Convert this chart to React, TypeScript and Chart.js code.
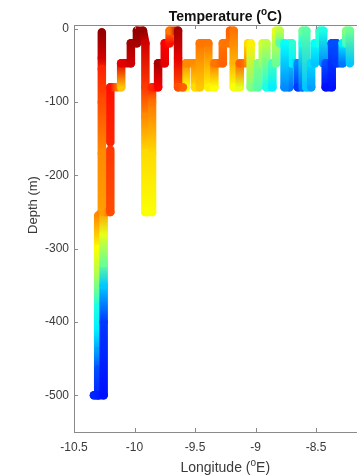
import React, { useEffect, useRef } from 'react';
import { Chart, registerables } from 'chart.js';

Chart.register(...registerables);

// ---- Track data: longitude (°E), depth (m), temperature (°C) ----
const deepLon = [-10.27, -10.27, -10.27, -10.27, -10.27, -10.27, -10.3, -10.3, -10.3, -10.3, -10.3, -10.3, -10.3, -10.3, -10.3, -10.335, -10.255, -10.255, -10.255, -10.255, -10.255, -10.255, -10.2, -10.2];
const deepDepth = [-5, -40, -55, -100, -170, -250, -255, -300, -330, -350, -380, -410, -440, -465, -500, -500, -500, -400, -350, -320, -280, -250, -250, -165];
const deepTemp = [14.9, 14.6, 14.2, 14.0, 13.7, 13.6, 13.7, 13.1, 12.8, 12.5, 12.0, 11.8, 11.4, 11.0, 10.8, 10.8, 10.7, 10.9, 11.6, 12.4, 13.0, 13.6, 14.0, 14.1];

const shelfALon = [-10.2, -10.2, -10.11, -10.11, -10.03, -10.03, -9.98, -9.98, -9.93, -9.91, -9.91, -9.91, -9.91, -9.91, -9.855, -9.855, -9.855, -9.855, -9.805, -9.805, -9.75, -9.75, -9.71, -9.71, -9.64, -9.64, -9.64, -9.6];
const shelfADepth = [-155, -80, -80, -47, -47, -20, -20, -3, -3, -20, -80, -120, -170, -250, -250, -170, -100, -80, -80, -47, -47, -20, -20, -3, -3, -40, -80, -80];
const shelfATemp = [14.2, 14.3, 13.4, 14.5, 14.6, 14.8, 14.8, 14.9, 14.9, 14.6, 14.1, 13.7, 13.3, 13.1, 13.1, 13.3, 13.8, 14.2, 14.4, 14.8, 14.5, 14.4, 14.3, 13.8, 14.8, 14.5, 14.0, 13.9];

const shelfBLon = [-9.6, -9.575, -9.575, -9.5, -9.5, -9.46, -9.46, -9.39, -9.39, -9.34, -9.34, -9.27, -9.27, -9.21, -9.21, -9.18, -9.18, -9.18, -9.13, -9.13, -9.06, -9.06, -9.04, -9.04, -8.98, -8.98, -8.94, -8.94, -8.91, -8.91, -8.86, -8.86, -8.83, -8.83, -8.8, -8.8, -8.76, -8.76];
const shelfBDepth = [-80, -80, -47, -47, -80, -80, -20, -20, -80, -80, -47, -47, -20, -20, -3, -3, -47, -80, -80, -47, -47, -20, -20, -80, -80, -47, -47, -20, -20, -80, -80, -47, -47, -3, -3, -20, -20, -80];
const shelfBTemp = [13.9, 13.1, 13.7, 13.7, 13.3, 13.4, 13.8, 13.8, 13.2, 13.1, 13.8, 13.9, 13.8, 13.8, 13.9, 13.8, 13.5, 13.1, 13.0, 13.9, 13.7, 13.3, 13.2, 12.5, 12.3, 12.5, 12.6, 12.9, 12.8, 12.0, 11.8, 12.2, 12.4, 13.0, 12.8, 12.3, 11.9, 11.3];

const shelfCLon = [-8.76, -8.72, -8.72, -8.7, -8.7, -8.65, -8.65, -8.61, -8.61, -8.61, -8.58, -8.58, -8.54, -8.54, -8.51, -8.51, -8.47, -8.47, -8.44, -8.44, -8.42, -8.42, -8.37, -8.37, -8.33, -8.33, -8.28, -8.28, -8.25, -8.25, -8.22, -8.22];
const shelfCDepth = [-80, -80, -20, -20, -47, -47, -80, -80, -20, -3, -3, -80, -80, -47, -47, -20, -20, -3, -3, -47, -47, -80, -80, -20, -20, -47, -47, -20, -20, -3, -3, -47];
const shelfCTemp = [11.3, 11.2, 12.0, 12.1, 11.8, 11.3, 10.9, 11.2, 12.0, 12.4, 12.3, 11.6, 11.4, 11.7, 11.6, 11.9, 12.0, 12.1, 12.0, 11.3, 11.0, 10.7, 10.7, 11.0, 11.0, 10.9, 11.2, 11.8, 12.2, 12.5, 12.4, 11.6];

const xTickValues = [-10.5, -10, -9.5, -9, -8.5, -8];
const xTickLabels = ['-10.5', '-10', '-9.5', '-9', '-8.5', '-8'];
const yTickValues = [-500, -400, -300, -200, -100, 0];
const yTickLabels = ['-500', '-400', '-300', '-200', '-100', '0'];

const T_MIN = 10;
const T_MAX = 15;

const FONT = '"Liberation Sans", Arial, Helvetica, sans-serif';
const AXIS_COLOR = '#8a8a8a';
const TEXT_COLOR = '#3a3a3a';

function clamp01(v: number) {
  return Math.max(0, Math.min(1, v));
}

function jet(temp: number): string {
  const t = clamp01((temp - T_MIN) / (T_MAX - T_MIN));
  const r = clamp01(1.5 - Math.abs(4 * t - 3));
  const g = clamp01(1.5 - Math.abs(4 * t - 2));
  const b = clamp01(1.5 - Math.abs(4 * t - 1));
  return `rgb(${Math.round(r * 255)},${Math.round(g * 255)},${Math.round(b * 255)})`;
}

const segColor = (temps: number[]) => (ctx: any) => {
  const c0 = jet(temps[ctx.p0DataIndex]);
  const c1 = jet(temps[ctx.p1DataIndex]);
  const p0 = ctx.p0;
  const p1 = ctx.p1;
  if (c0 === c1 || Math.hypot(p1.x - p0.x, p1.y - p0.y) < 0.5) return c1;
  const g = ctx.chart.ctx.createLinearGradient(p0.x, p0.y, p1.x, p1.y);
  g.addColorStop(0, c0);
  g.addColorStop(1, c1);
  return g;
};

function track(lon: number[], depth: number[], temp: number[]) {
  return {
    data: lon.map((x, i) => ({ x, y: depth[i] })),
    showLine: true,
    pointRadius: 0,
    pointHoverRadius: 0,
    borderWidth: 8.5,
    borderCapStyle: 'round',
    borderJoinStyle: 'round',
    borderColor: jet(temp[0]),
    tension: 0,
    segment: { borderColor: segColor(temp) },
  };
}

function drawSupLabel(
  ctx: CanvasRenderingContext2D,
  before: string,
  sup: string,
  after: string,
  size: number,
  weight: string,
  color: string
) {
  const main = `${weight} ${size}px ${FONT}`;
  const small = `${weight} ${Math.round(size * 0.68)}px ${FONT}`;
  ctx.font = main;
  const w1 = ctx.measureText(before).width;
  const w3 = ctx.measureText(after).width;
  ctx.font = small;
  const w2 = sup ? ctx.measureText(sup).width : 0;
  const total = w1 + w2 + w3;
  let x = -total / 2;
  ctx.fillStyle = color;
  ctx.textAlign = 'left';
  ctx.textBaseline = 'alphabetic';
  ctx.font = main;
  ctx.fillText(before, x, 0);
  x += w1;
  if (sup) {
    ctx.font = small;
    ctx.fillText(sup, x, -size * 0.42);
    x += w2;
  }
  ctx.font = main;
  ctx.fillText(after, x, 0);
}

const decorPlugin = {
  id: 'decor',
  afterDatasetsDraw(chart: any) {
    const { ctx, chartArea } = chart;
    const { left, right, top, bottom } = chartArea;
    const xs = chart.scales.x;
    const ys = chart.scales.y;
    ctx.save();
    ctx.strokeStyle = AXIS_COLOR;
    ctx.lineWidth = 1;
    ctx.beginPath();
    const t = Math.round(top) + 0.5;
    const r = Math.round(right) - 0.5;
    ctx.moveTo(left, t);
    ctx.lineTo(right, t);
    ctx.moveTo(r, top);
    ctx.lineTo(r, bottom);
    xTickValues.forEach((v) => {
      const px = Math.round(xs.getPixelForValue(v)) + 0.5;
      ctx.moveTo(px, bottom);
      ctx.lineTo(px, bottom - 4);
      ctx.moveTo(px, top);
      ctx.lineTo(px, top + 4);
    });
    yTickValues.forEach((v) => {
      const py = Math.round(ys.getPixelForValue(v)) + 0.5;
      ctx.moveTo(left, py);
      ctx.lineTo(left + 4, py);
      ctx.moveTo(right, py);
      ctx.lineTo(right - 4, py);
    });
    ctx.stroke();
    ctx.restore();
  },
  afterDraw(chart: any) {
    const { ctx, chartArea } = chart;
    const cx = (chartArea.left + chartArea.right) / 2;
    ctx.save();
    ctx.translate(cx, 21);
    drawSupLabel(ctx, 'Temperature (', 'o', 'C)', 14, 'bold', '#111');
    ctx.restore();

    ctx.save();
    ctx.translate(cx, 472);
    drawSupLabel(ctx, 'Longitude (', 'o', 'E)', 14, 'normal', TEXT_COLOR);
    ctx.restore();

    ctx.save();
    ctx.translate(37, 205);
    ctx.rotate(-Math.PI / 2);
    drawSupLabel(ctx, 'Depth (m)', '', '', 13, 'normal', TEXT_COLOR);
    ctx.restore();
  },
};

export default function App() {
  const canvasRef = useRef<HTMLCanvasElement | null>(null);

  useEffect(() => {
    if (!canvasRef.current) return;
    const chart = new Chart(canvasRef.current, {
      type: 'scatter',
      data: {
        datasets: [
          track(deepLon, deepDepth, deepTemp),
          track(shelfALon, shelfADepth, shelfATemp),
          track(shelfBLon, shelfBDepth, shelfBTemp),
          track(shelfCLon, shelfCDepth, shelfCTemp),
        ] as any,
      },
      options: {
        animation: false,
        responsive: false,
        devicePixelRatio: 1,
        layout: { padding: { top: 25, left: 0, right: 13.5, bottom: 0 } },
        plugins: {
          legend: { display: false },
          tooltip: { enabled: false },
          title: { display: false },
        },
        scales: {
          x: {
            type: 'linear',
            min: -10.5,
            max: -8,
            grid: { display: false, drawTicks: false, tickLength: 0 },
            border: { display: true, color: AXIS_COLOR, width: 1 },
            afterBuildTicks: (scale: any) => {
              scale.ticks = xTickValues.map((v) => ({ value: v }));
            },
            afterFit: (scale: any) => {
              scale.height = 44;
            },
            ticks: {
              autoSkip: false,
              maxRotation: 0,
              padding: 8,
              color: TEXT_COLOR,
              font: { family: FONT, size: 12 },
              callback: (value: any) => {
                const i = xTickValues.indexOf(Number(value));
                return i >= 0 ? xTickLabels[i] : '';
              },
            },
          },
          y: {
            type: 'linear',
            min: -550,
            max: 5,
            grid: { display: false, drawTicks: false, tickLength: 0 },
            border: { display: true, color: AXIS_COLOR, width: 1 },
            afterBuildTicks: (scale: any) => {
              scale.ticks = yTickValues.map((v) => ({ value: v }));
            },
            afterFit: (scale: any) => {
              scale.width = 74;
            },
            ticks: {
              autoSkip: false,
              padding: 5,
              color: TEXT_COLOR,
              font: { family: FONT, size: 12 },
              callback: (value: any) => {
                const i = yTickValues.indexOf(Number(value));
                return i >= 0 ? yTickLabels[i] : '';
              },
            },
          },
        },
      } as any,
      plugins: [decorPlugin],
    });
    return () => chart.destroy();
  }, []);

  return (
    <div
      style={{
        position: 'fixed',
        left: 0,
        top: 0,
        width: 357,
        height: 476,
        overflow: 'hidden',
        background: '#fff',
      }}
    >
      <canvas ref={canvasRef} width={390} height={476} style={{ display: 'block' }} />
    </div>
  );
}
